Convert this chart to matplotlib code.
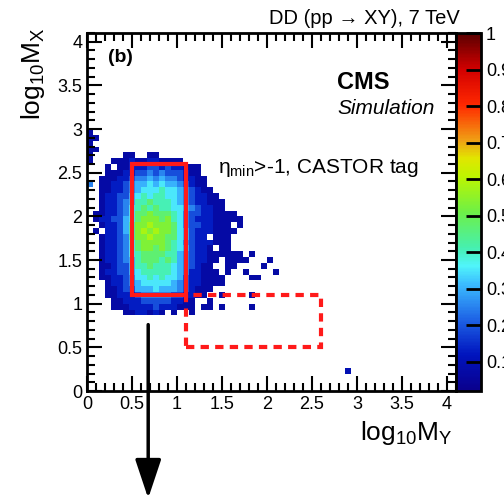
import numpy as np
import matplotlib
matplotlib.use('Agg')
import matplotlib.pyplot as plt
from matplotlib.colors import LinearSegmentedColormap
from matplotlib.patches import Rectangle
from matplotlib.ticker import MultipleLocator

plt.rcParams['font.family'] = ['Liberation Sans', 'DejaVu Sans']
plt.rcParams['mathtext.fontset'] = 'custom'
plt.rcParams['mathtext.rm'] = 'Liberation Sans'
plt.rcParams['mathtext.it'] = 'Liberation Sans:italic'

# niveis de cor (codigo -> valor normalizado)
level_codes = ['1', '2', '3', '4', '5', '6', '7', '8', '9', 'a']
level_values = [0.07, 0.13, 0.19, 0.25, 0.30, 0.35, 0.41, 0.47, 0.53, 0.58]

# histograma 2D, linhas de cima para baixo, bins de 1/15 em log10 M
top_row = 44
hist_rows = [
    "1",
    "11",
    "1",
    "11",
    "1.....11..11",
    "1...111211221111",
    "...1.11222332322111",
    "...1112233434333211",
    "..111223445454432211",
    "4.112234556565543211",
    "..1122345666766543211",
    "..12233567677665432211",
    "..122345778777654322111",
    "..122346787877665432211",
    ".112234688988876433221111",
    ".1223356899989764322211111",
    "..12235799a9998643322111.1",
    ".1.223579a9a9986532221111",
    "..12234799a998865322.111",
    "..1223468999987643222111",
    "..1223468998987653221.11",
    "..122346788887754322111111.1",
    "..12234578887875432211.1111...1",
    "..1123357787776543211..11....1",
    "..12233567777765422111.1..1....1",
    "..112234667676653221111....11",
    "...12234566666543221111",
    "...112335556555432111",
    "...11222344444332211..1....1",
    "....11222333332211..1",
    "....11122223222111.11.1....1",
    "......1122121.1..1",
]
# celula isolada
lone_x = [2.9]
lone_y = [0.23]
lone_v = [0.10]

box_signal = [0.5, 1.1, 1.1, 2.6]   # x0, y0, x1, y1
box_dashed = [1.1, 0.5, 2.6, 1.1]

cb_ticks = [0.1, 0.2, 0.3, 0.4, 0.5, 0.6, 0.7, 0.8, 0.9, 1.0]
cb_labels = ['0.1', '0.2', '0.3', '0.4', '0.5', '0.6', '0.7', '0.8', '0.9', '1']

bw = 1.0 / 15
nb = 62
H = np.zeros((nb, nb))
lut = dict(zip(level_codes, level_values))
for k, row in enumerate(hist_rows):
    j = top_row - k
    for i, ch in enumerate(row):
        if ch != '.':
            H[j, i] = lut[ch]
for x, y, v in zip(lone_x, lone_y, lone_v):
    H[int(y / bw), int(x / bw)] = v
edges = np.arange(nb + 1) * bw

# paleta parecida com a do ROOT
stops = [(0.0, (10, 0, 140)), (0.1, (0, 20, 190)), (0.2, (30, 100, 230)),
         (0.3, (60, 190, 255)), (0.35, (80, 245, 250)), (0.4, (70, 240, 175)),
         (0.5, (110, 240, 70)), (0.6, (190, 245, 0)), (0.65, (225, 230, 0)),
         (0.7, (240, 160, 20)), (0.8, (255, 40, 0)), (0.9, (210, 0, 0)),
         (1.0, (90, 0, 0))]
cmap = LinearSegmentedColormap.from_list(
    'rootrainbow', [(s, tuple(c / 255 for c in col)) for s, col in stops])

fig = plt.figure(figsize=(5.04, 4.98), dpi=100)
ax = fig.add_axes([87 / 504, 1 - 391 / 498, 369 / 504, 358 / 498])
mesh = ax.pcolormesh(edges, edges, np.ma.masked_equal(H, 0), cmap=cmap,
                     vmin=0.02, vmax=1.0, edgecolors='face', linewidth=0)
ax.set_xlim(0, 4.1)
ax.set_ylim(0, 4.1)

ax.xaxis.set_major_locator(MultipleLocator(0.5))
ax.xaxis.set_minor_locator(MultipleLocator(0.1))
ax.yaxis.set_major_locator(MultipleLocator(0.5))
ax.yaxis.set_minor_locator(MultipleLocator(0.1))
ax.xaxis.set_major_formatter(plt.FuncFormatter(lambda v, p: f'{v:g}'))
ax.yaxis.set_major_formatter(plt.FuncFormatter(lambda v, p: f'{v:g}'))
ax.tick_params(which='both', direction='in', top=True, right=True, width=1.5,
               labelsize=13)
ax.tick_params(which='major', length=11)
ax.tick_params(which='minor', length=6)
for s in ax.spines.values():
    s.set_linewidth(2)

x0, y0, x1, y1 = box_signal
ax.add_patch(Rectangle((x0, y0), x1 - x0, y1 - y0, fill=False,
                       edgecolor='#ff1a1a', linewidth=3))
x0, y0, x1, y1 = box_dashed
ax.add_patch(Rectangle((x0, y0), x1 - x0, y1 - y0, fill=False,
                       edgecolor='#ff1a1a', linewidth=3, linestyle=(0, (2, 1.5))))

ax.annotate('', xy=(0.68, -1.23), xytext=(0.68, 0.76), annotation_clip=False,
            arrowprops=dict(arrowstyle='-|>,head_length=2.4,head_width=0.8',
                            color='black', lw=2.5, shrinkA=0, shrinkB=0))

cax = fig.add_axes([456 / 504, 1 - 391 / 498, 25 / 504, 358 / 498])
cb = fig.colorbar(mesh, cax=cax)
cb.set_ticks(cb_ticks)
cb.set_ticklabels(cb_labels)
cax.tick_params(direction='in', length=11, width=2, labelsize=13)
cb.outline.set_linewidth(2)
cax.minorticks_off()

fig.text(453 / 504, 1 - 433 / 498, r'log$_{\mathregular{10}}$M$_{\mathregular{Y}}$',
         ha='right', va='center', fontsize=19)
fig.text(33 / 504, 1 - 27 / 498, r'log$_{\mathregular{10}}$M$_{\mathregular{X}}$',
         ha='center', va='top', rotation=90, fontsize=19)
fig.text(460 / 504, 1 - 18 / 498, 'DD (pp \u2192 XY), 7 TeV', ha='right',
         va='center', fontsize=14.5)
fig.text(108 / 504, 1 - 58 / 498, '(b)', ha='left', va='center',
         fontsize=14, fontweight='bold')
fig.text(337 / 504, 1 - 82 / 498, 'CMS', ha='left', va='center',
         fontsize=17, fontweight='bold')
fig.text(337 / 504, 1 - 108 / 498, 'Simulation', ha='left', va='center',
         fontsize=15, fontstyle='italic')
fig.text(218 / 504, 1 - 168 / 498,
         '\u03b7$_{\\mathregular{min}}$>-1, CASTOR tag', ha='left',
         va='center', fontsize=15)

fig.savefig('out.png', dpi=100)
